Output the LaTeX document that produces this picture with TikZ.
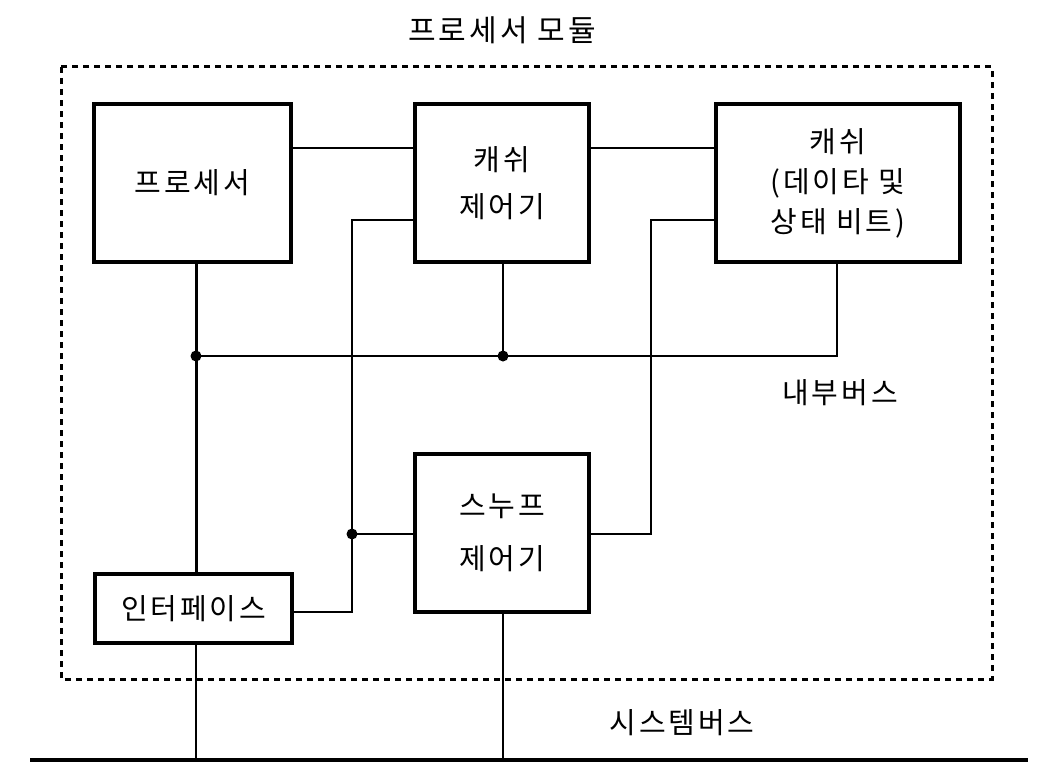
\documentclass[tikz,border=0pt]{standalone}
\usepackage{fontspec}
\setmainfont{Noto Sans CJK KR}[LetterSpace=10]
\begin{document}
\begin{tikzpicture}[x=1pt,y=-1pt,
  box/.style={draw, line width=3.4pt, inner sep=0pt, align=center, font=\fontsize{29}{40}\selectfont},
  wire/.style={line width=2.2pt},
  lbl/.style={font=\fontsize{29}{30}\selectfont, inner sep=0pt},
  dot/.style={circle, fill, inner sep=0pt, minimum size=11pt}]
\useasboundingbox (0,0) rectangle (1058,784);
\fill[white] (0,0) rectangle (1058,784);
% frame
\draw[line width=3pt, dash pattern=on 6pt off 5pt] (61,67) rectangle (992,679);
\node[lbl, font=\fontsize{30}{30}\selectfont] (title) at (502,30) {프로세서 모듈};
% boxes
\node[box, minimum width=197pt, minimum height=158pt] (proc) at (192.5,183) {프로세서};
\node[box, minimum width=174pt, minimum height=158pt, font=\fontsize{29}{47}\selectfont] (cc) at (502,183) {캐쉬\\제어기};
\node[box, minimum width=244pt, minimum height=158pt, font=\fontsize{29}{40}\selectfont] (cache) at (838,183) {캐쉬\\(데이타 및\\상태 비트)};
\node[box, minimum width=174pt, minimum height=158pt, font=\fontsize{29}{53}\selectfont] (snoop) at (502,533) {스누프\\제어기};
\node[box, minimum width=197pt, minimum height=69pt] (intf) at (193.5,608.5) {인터페이스};
% junctions
\coordinate (jp) at (196,356);
\coordinate (jc) at (503,356);
\coordinate (jr) at (837,356);
\coordinate (js) at (352,534);
\coordinate (a1) at (352,220);
\coordinate (a2) at (352,612);
\coordinate (b1) at (651,534);
\coordinate (b2) at (651,220);
\coordinate (sbl) at (30,760);
\coordinate (sbr) at (1028,760);
% wires
\draw[wire] (proc.east |- 0,148) -- (cc.west |- 0,148);
\draw[wire] (cc.east |- 0,148) -- (cache.west |- 0,148);
\draw[wire, line width=3pt] (proc.south -| jp) -- (intf.north -| jp);
\draw[wire] (jp) -- (jr) -- (cache.south -| jr);
\draw[wire] (cc.south -| jc) -- (jc);
\draw[wire] (cc.west |- a1) -- (a1) -- (a2) -- (intf.east |- a2);
\draw[wire] (js) -- (snoop.west |- js);
\draw[wire] (snoop.east |- b1) -- (b1) -- (b2) -- (cache.west |- b2);
\draw[line width=3.5pt] (sbl) -- (sbr);
\draw[wire] (intf.south -| jp) -- (jp |- sbl);
\draw[wire] (snoop.south -| jc) -- (jc |- sbl);
\node[dot] (d1) at (jp) {};
\node[dot] (d2) at (jc) {};
\node[dot] (d3) at (js) {};
% labels
\node[lbl] (ib) at (840,393) {내부버스};
\node[lbl] (sb) at (682,723) {시스템버스};
\end{tikzpicture}
\end{document}
